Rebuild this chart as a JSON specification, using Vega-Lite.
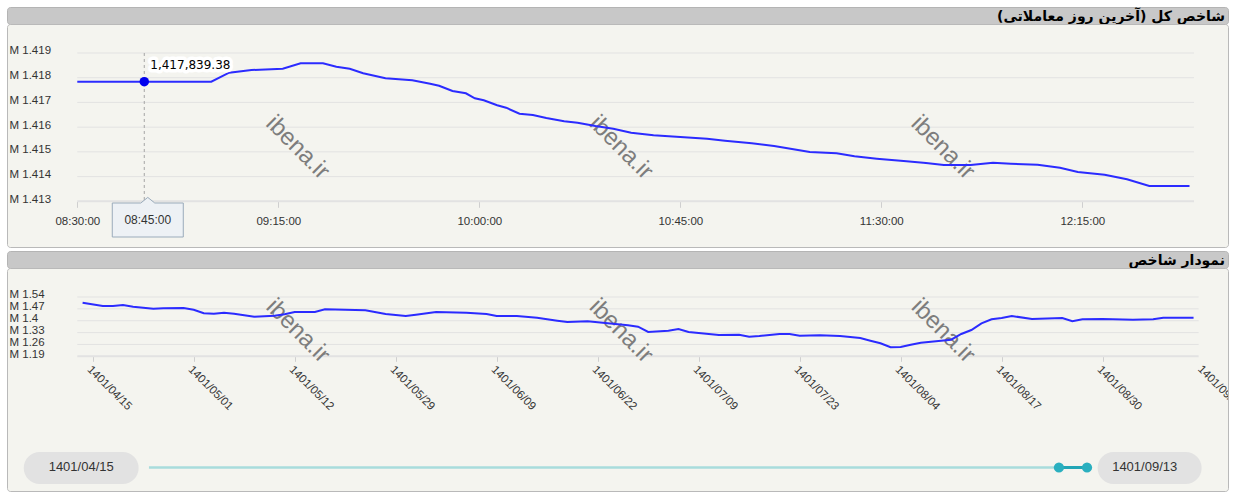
{
  "$schema": "https://vega.github.io/schema/vega-lite/v6.json",
  "background": "#ffffff",
  "padding": {"left": 6, "top": 6, "right": 4, "bottom": 2},
  "config": {
    "view": {"stroke": null},
    "axis": {"labelFont": "Liberation Sans", "labelFontSize": 11.5, "labelColor": "#333333", "labelFlush": false, "labelOverlap": false, "grid": false, "domain": false},
    "text": {"font": "Liberation Sans"}
  },
  "datasets": {
    "intraday": [
      {"t": "2022-12-04T08:30", "v": 1417839.38},
      {"t": "2022-12-04T08:45", "v": 1417839.38},
      {"t": "2022-12-04T09:00", "v": 1417839.38},
      {"t": "2022-12-04T09:04", "v": 1418203},
      {"t": "2022-12-04T09:09", "v": 1418312},
      {"t": "2022-12-04T09:16", "v": 1418365},
      {"t": "2022-12-04T09:20", "v": 1418583},
      {"t": "2022-12-04T09:25", "v": 1418583},
      {"t": "2022-12-04T09:28", "v": 1418446},
      {"t": "2022-12-04T09:31", "v": 1418365},
      {"t": "2022-12-04T09:34", "v": 1418179},
      {"t": "2022-12-04T09:39", "v": 1417977},
      {"t": "2022-12-04T09:45", "v": 1417896},
      {"t": "2022-12-04T09:49", "v": 1417758},
      {"t": "2022-12-04T09:51", "v": 1417677},
      {"t": "2022-12-04T09:54", "v": 1417463},
      {"t": "2022-12-04T09:57", "v": 1417370},
      {"t": "2022-12-04T09:59", "v": 1417167},
      {"t": "2022-12-04T10:01", "v": 1417086},
      {"t": "2022-12-04T10:04", "v": 1416884},
      {"t": "2022-12-04T10:06", "v": 1416787},
      {"t": "2022-12-04T10:09", "v": 1416544},
      {"t": "2022-12-04T10:12", "v": 1416492},
      {"t": "2022-12-04T10:15", "v": 1416370},
      {"t": "2022-12-04T10:19", "v": 1416237},
      {"t": "2022-12-04T10:22", "v": 1416180},
      {"t": "2022-12-04T10:26", "v": 1416047},
      {"t": "2022-12-04T10:30", "v": 1415937},
      {"t": "2022-12-04T10:34", "v": 1415776},
      {"t": "2022-12-04T10:39", "v": 1415670},
      {"t": "2022-12-04T10:45", "v": 1415602},
      {"t": "2022-12-04T10:51", "v": 1415533},
      {"t": "2022-12-04T10:55", "v": 1415452},
      {"t": "2022-12-04T11:01", "v": 1415347},
      {"t": "2022-12-04T11:06", "v": 1415237},
      {"t": "2022-12-04T11:10", "v": 1415116},
      {"t": "2022-12-04T11:14", "v": 1414995},
      {"t": "2022-12-04T11:20", "v": 1414942},
      {"t": "2022-12-04T11:24", "v": 1414821},
      {"t": "2022-12-04T11:29", "v": 1414724},
      {"t": "2022-12-04T11:35", "v": 1414631},
      {"t": "2022-12-04T11:40", "v": 1414550},
      {"t": "2022-12-04T11:44", "v": 1414469},
      {"t": "2022-12-04T11:50", "v": 1414469},
      {"t": "2022-12-04T11:55", "v": 1414562},
      {"t": "2022-12-04T11:59", "v": 1414521},
      {"t": "2022-12-04T12:05", "v": 1414481},
      {"t": "2022-12-04T12:10", "v": 1414359},
      {"t": "2022-12-04T12:14", "v": 1414185},
      {"t": "2022-12-04T12:20", "v": 1414076},
      {"t": "2022-12-04T12:25", "v": 1413890},
      {"t": "2022-12-04T12:30", "v": 1413619},
      {"t": "2022-12-04T12:39", "v": 1413619}
    ],
    "history": [
      {"i": 0, "v": 1506347}, {"i": 2, "v": 1486871}, {"i": 3, "v": 1486871}, {"i": 4, "v": 1492773},
      {"i": 5, "v": 1482739}, {"i": 7, "v": 1470935}, {"i": 8, "v": 1473296}, {"i": 10, "v": 1475067},
      {"i": 11, "v": 1465033}, {"i": 12, "v": 1443786}, {"i": 13, "v": 1441425}, {"i": 14, "v": 1447327},
      {"i": 15, "v": 1441425}, {"i": 17, "v": 1423719}, {"i": 19, "v": 1429621}, {"i": 20, "v": 1437884},
      {"i": 21, "v": 1451459}, {"i": 23, "v": 1451459}, {"i": 24, "v": 1467394}, {"i": 26, "v": 1465033},
      {"i": 28, "v": 1461492}, {"i": 30, "v": 1439655}, {"i": 32, "v": 1427851}, {"i": 33, "v": 1435523},
      {"i": 35, "v": 1451459}, {"i": 38, "v": 1447327}, {"i": 40, "v": 1439655}, {"i": 41, "v": 1427851},
      {"i": 43, "v": 1427851}, {"i": 45, "v": 1417817}, {"i": 47, "v": 1400111}, {"i": 48, "v": 1392439},
      {"i": 50, "v": 1396570}, {"i": 52, "v": 1384766}, {"i": 54, "v": 1372962}, {"i": 55, "v": 1364699},
      {"i": 56, "v": 1333419}, {"i": 58, "v": 1341091}, {"i": 59, "v": 1351125}, {"i": 60, "v": 1333419},
      {"i": 62, "v": 1321615}, {"i": 63, "v": 1315713}, {"i": 65, "v": 1317483}, {"i": 66, "v": 1305679},
      {"i": 67, "v": 1309811}, {"i": 69, "v": 1321615}, {"i": 70, "v": 1321615}, {"i": 71, "v": 1311581},
      {"i": 73, "v": 1313942}, {"i": 75, "v": 1309811}, {"i": 77, "v": 1298007}, {"i": 78, "v": 1282071},
      {"i": 79, "v": 1266726}, {"i": 80, "v": 1243118}, {"i": 81, "v": 1244889}, {"i": 82, "v": 1258463},
      {"i": 83, "v": 1270267}, {"i": 85, "v": 1282071}, {"i": 86, "v": 1287973}, {"i": 87, "v": 1321615},
      {"i": 88, "v": 1345223}, {"i": 89, "v": 1384766}, {"i": 90, "v": 1408374}, {"i": 91, "v": 1416047},
      {"i": 92, "v": 1427851}, {"i": 94, "v": 1410145}, {"i": 97, "v": 1416047}, {"i": 98, "v": 1396570},
      {"i": 99, "v": 1408374}, {"i": 101, "v": 1410145}, {"i": 104, "v": 1406013}, {"i": 106, "v": 1408374},
      {"i": 107, "v": 1417817}, {"i": 110, "v": 1417817}
    ],
    "hover": [{"t": "2022-12-04T08:45", "v": 1417839.38}],
    "ygrid1": [{"g": 1413000}, {"g": 1414000}, {"g": 1415000}, {"g": 1416000}, {"g": 1417000}, {"g": 1418000}, {"g": 1419000}],
    "ygrid2": [{"g": 1190000}, {"g": 1260000}, {"g": 1330000}, {"g": 1400000}, {"g": 1470000}, {"g": 1540000}]
  },
  "bounds": "flush",
  "spacing": 0,
  "vconcat": [
    {
      "width": 1221,
      "height": 17,
      "view": {"fill": "#c8c8c8", "stroke": "#b4b4b4", "cornerRadius": 3},
      "data": {"values": [{"title": "شاخص کل (آخرین روز معاملاتی)\u200f"}]},
      "mark": {"type": "text", "align": "right", "baseline": "bottom", "dx": -3, "dy": 0, "font": "DejaVu Sans", "fontWeight": "bold", "fontSize": 14, "color": "#000000"},
      "encoding": {"x": {"value": "width"}, "y": {"value": "height"}, "text": {"field": "title"}}
    },
    {
      "width": 1221,
      "height": 223,
      "view": {"fill": "#f4f4ef", "stroke": "#b9b9b9", "cornerRadius": 3},
      "layer": [
        {
          "data": {"name": "ygrid1"},
          "mark": {"type": "rule", "color": "#e2e2e2"},
          "encoding": {
            "x": {"datum": {"year": 2022, "month": 12, "date": 4, "hours": 8, "minutes": 30}, "type": "temporal"},
            "x2": {"datum": {"year": 2022, "month": 12, "date": 4, "hours": 12, "minutes": 40}},
            "y": {"field": "g", "type": "quantitative"},
            "strokeWidth": {"condition": {"test": "datum.g == 1413000", "value": 2}, "value": 1}
          }
        },
        {
          "data": {"values": [{}]},
          "mark": {"type": "text", "angle": 45, "fontSize": 24, "color": "#7d7d7d", "align": "center", "baseline": "middle"},
          "encoding": {
            "x": {"datum": {"year": 2022, "month": 12, "date": 4, "hours": 9, "minutes": 19, "seconds": 20}, "type": "temporal"},
            "y": {"datum": 1415168, "type": "quantitative"},
            "text": {"value": "ibena.ir"}
          }
        },
        {
          "data": {"values": [{}]},
          "mark": {"type": "text", "angle": 45, "fontSize": 24, "color": "#7d7d7d", "align": "center", "baseline": "middle"},
          "encoding": {
            "x": {"datum": {"year": 2022, "month": 12, "date": 4, "hours": 10, "minutes": 31, "seconds": 43}, "type": "temporal"},
            "y": {"datum": 1415168, "type": "quantitative"},
            "text": {"value": "ibena.ir"}
          }
        },
        {
          "data": {"values": [{}]},
          "mark": {"type": "text", "angle": 45, "fontSize": 24, "color": "#7d7d7d", "align": "center", "baseline": "middle"},
          "encoding": {
            "x": {"datum": {"year": 2022, "month": 12, "date": 4, "hours": 11, "minutes": 43, "seconds": 45}, "type": "temporal"},
            "y": {"datum": 1415168, "type": "quantitative"},
            "text": {"value": "ibena.ir"}
          }
        },
        {
          "data": {"name": "intraday"},
          "mark": {"type": "line", "color": "#2b2bff", "strokeWidth": 2},
          "encoding": {
            "x": {
              "field": "t", "type": "temporal",
              "scale": {"domain": [{"year": 2022, "month": 12, "date": 4, "hours": 8, "minutes": 14, "seconds": 16}, {"year": 2022, "month": 12, "date": 4, "hours": 12, "minutes": 47, "seconds": 37}], "nice": false},
              "axis": {
                "title": null,
                "orient": "bottom", "offset": -45.7, "format": "%H:%M:%S",
                "values": [
                  {"year": 2022, "month": 12, "date": 4, "hours": 8, "minutes": 30},
                  {"year": 2022, "month": 12, "date": 4, "hours": 9, "minutes": 15},
                  {"year": 2022, "month": 12, "date": 4, "hours": 10, "minutes": 0},
                  {"year": 2022, "month": 12, "date": 4, "hours": 10, "minutes": 45},
                  {"year": 2022, "month": 12, "date": 4, "hours": 11, "minutes": 30},
                  {"year": 2022, "month": 12, "date": 4, "hours": 12, "minutes": 15}
                ],
                "tickCount": 50,
                "ticks": true, "tickSize": 6, "tickColor": "#cfcfcf", "labelPadding": 8, "labelBaseline": "top", "labelAlign": "center"
              }
            },
            "y": {
              "field": "v", "type": "quantitative",
              "scale": {"domain": [1411151, 1420173], "nice": false, "zero": false},
              "axis": {
                "title": null,
                "orient": "left", "values": [1413000, 1414000, 1415000, 1416000, 1417000, 1418000, 1419000],
                "tickCount": 50,
                "labelExpr": "'M ' + format(datum.value / 1000000, '.3f')",
                "ticks": false, "tickSize": 0, "labelPadding": -2, "labelAlign": "left", "labelBaseline": "middle", "labelOffset": -2
              }
            }
          }
        },
        {
          "data": {"name": "hover"},
          "mark": {"type": "rule", "color": "#a5a5a5", "strokeDash": [3, 3], "strokeWidth": 1},
          "encoding": {
            "x": {"field": "t", "type": "temporal"},
            "y": {"datum": 1419000, "type": "quantitative"},
            "y2": {"datum": 1413000}
          }
        },
        {
          "data": {"name": "hover"},
          "mark": {"type": "point", "filled": true, "size": 90, "color": "#0000ee", "opacity": 1},
          "encoding": {
            "x": {"field": "t", "type": "temporal"},
            "y": {"field": "v", "type": "quantitative"}
          }
        },
        {
          "data": {"name": "hover"},
          "mark": {"type": "text", "align": "left", "baseline": "middle", "dx": 6, "dy": -17, "font": "DejaVu Sans", "fontSize": 12, "color": "#ffffff", "stroke": "#ffffff", "strokeWidth": 7, "strokeJoin": "round"},
          "encoding": {
            "x": {"field": "t", "type": "temporal"},
            "y": {"field": "v", "type": "quantitative"},
            "text": {"field": "v", "type": "quantitative", "format": ",.2f"}
          }
        },
        {
          "data": {"name": "hover"},
          "mark": {"type": "text", "align": "left", "baseline": "middle", "dx": 6, "dy": -17, "font": "DejaVu Sans", "fontSize": 12, "color": "#000000"},
          "encoding": {
            "x": {"field": "t", "type": "temporal"},
            "y": {"field": "v", "type": "quantitative"},
            "text": {"field": "v", "type": "quantitative", "format": ",.2f"}
          }
        },
        {
          "data": {"name": "hover"},
          "mark": {"type": "point", "shape": "M-1,-0.479L-0.197,-0.479L0,-0.637L0.197,-0.479L1,-0.479L1,0.479L-1,0.479Z", "size": 5041, "filled": true, "fill": "#edf1f5", "stroke": "#9aabbb", "strokeWidth": 1, "opacity": 1, "xOffset": 3.5},
          "encoding": {
            "x": {"field": "t", "type": "temporal"},
            "y": {"datum": 1412243, "type": "quantitative"}
          }
        },
        {
          "data": {"name": "hover"},
          "mark": {"type": "text", "align": "center", "baseline": "middle", "dx": 3.5, "fontSize": 12, "color": "#333333"},
          "encoding": {
            "x": {"field": "t", "type": "temporal"},
            "y": {"datum": 1412243, "type": "quantitative"},
            "text": {"field": "t", "type": "temporal", "format": "%H:%M:%S"}
          }
        }
      ]
    },
    {
      "width": 1221,
      "height": 4,
      "data": {"values": []},
      "mark": "point"
    },
    {
      "width": 1221,
      "height": 17,
      "view": {"fill": "#c8c8c8", "stroke": "#b4b4b4", "cornerRadius": 3},
      "data": {"values": [{"title": "نمودار شاخص\u200f"}]},
      "mark": {"type": "text", "align": "right", "baseline": "bottom", "dx": -3, "dy": 0, "font": "DejaVu Sans", "fontWeight": "bold", "fontSize": 14, "color": "#000000"},
      "encoding": {"x": {"value": "width"}, "y": {"value": "height"}, "text": {"field": "title"}}
    },
    {
      "width": 1221,
      "height": 223,
      "view": {"fill": "#f4f4ef", "stroke": "#b9b9b9", "cornerRadius": 3},
      "layer": [
        {
          "data": {"name": "ygrid2"},
          "mark": {"type": "rule", "color": "#e2e2e2"},
          "encoding": {
            "x": {"datum": -0.525, "type": "quantitative"},
            "x2": {"datum": 110.5},
            "y": {"field": "g", "type": "quantitative"},
            "strokeWidth": {"condition": {"test": "datum.g == 1190000", "value": 2}, "value": 1}
          }
        },
        {
          "data": {"values": [{}]},
          "mark": {"type": "text", "angle": 45, "fontSize": 24, "color": "#7d7d7d", "align": "center", "baseline": "middle"},
          "encoding": {
            "x": {"datum": 21.3, "type": "quantitative"},
            "y": {"datum": 1339332, "type": "quantitative"},
            "text": {"value": "ibena.ir"}
          }
        },
        {
          "data": {"values": [{}]},
          "mark": {"type": "text", "angle": 45, "fontSize": 24, "color": "#7d7d7d", "align": "center", "baseline": "middle"},
          "encoding": {
            "x": {"datum": 53.3, "type": "quantitative"},
            "y": {"datum": 1339332, "type": "quantitative"},
            "text": {"value": "ibena.ir"}
          }
        },
        {
          "data": {"values": [{}]},
          "mark": {"type": "text", "angle": 45, "fontSize": 24, "color": "#7d7d7d", "align": "center", "baseline": "middle"},
          "encoding": {
            "x": {"datum": 85.2, "type": "quantitative"},
            "y": {"datum": 1339332, "type": "quantitative"},
            "text": {"value": "ibena.ir"}
          }
        },
        {
          "data": {"name": "history"},
          "mark": {"type": "line", "color": "#2b2bff", "strokeWidth": 2},
          "encoding": {
            "x": {
              "field": "i", "type": "quantitative",
              "scale": {"domain": [-7.485, 113.41], "nice": false, "zero": false},
              "axis": {
                "title": null,
                "orient": "bottom", "offset": -134.7,
                "values": [1, 11, 21, 31, 41, 51, 61, 71, 81, 91, 101],
                "tickCount": 50,
                "labelExpr": "['1401/04/15','1401/05/01','1401/05/12','1401/05/29','1401/06/09','1401/06/22','1401/07/09','1401/07/23','1401/08/04','1401/08/17','1401/08/30'][(datum.value - 1) / 10]",
                "ticks": true, "tickSize": 5, "tickColor": "#cfcfcf", "labelPadding": 2, "labelAngle": 45, "labelAlign": "left", "labelBaseline": "top"
              }
            },
            "y": {
              "field": "v", "type": "quantitative",
              "scale": {"domain": [395000, 1711158], "nice": false, "zero": false},
              "axis": {
                "title": null,
                "orient": "left", "values": [1190000, 1260000, 1330000, 1400000, 1470000, 1540000],
                "tickCount": 50,
                "labelExpr": "'M ' + format(datum.value / 1000000, '.2~f')",
                "ticks": false, "tickSize": 0, "labelPadding": -2, "labelAlign": "left", "labelBaseline": "middle", "labelOffset": -2
              }
            }
          }
        },
        {
          "data": {"values": [{"label": "1401/09/13"}]},
          "mark": {"type": "text", "align": "left", "baseline": "top", "angle": 45, "fontSize": 11.5, "color": "#333333", "clip": true},
          "encoding": {
            "x": {"datum": 111, "type": "quantitative"},
            "y": {"datum": 1148697, "type": "quantitative"},
            "text": {"field": "label"}
          }
        },
        {
          "data": {"values": [{}]},
          "mark": {"type": "rect", "color": "#e2e2e2", "cornerRadius": 16},
          "encoding": {
            "x": {"datum": -5.83, "type": "quantitative"},
            "x2": {"datum": 5.55},
            "y": {"datum": 625190, "type": "quantitative"},
            "y2": {"datum": 436326}
          }
        },
        {
          "data": {"values": [{}]},
          "mark": {"type": "rect", "color": "#e2e2e2", "cornerRadius": 16},
          "encoding": {
            "x": {"datum": 100.5, "type": "quantitative"},
            "x2": {"datum": 110.8},
            "y": {"datum": 625190, "type": "quantitative"},
            "y2": {"datum": 436326}
          }
        },
        {
          "data": {"values": [{}]},
          "mark": {"type": "rule", "color": "#a8dcdc", "strokeWidth": 2.5},
          "encoding": {
            "x": {"datum": 6.57, "type": "quantitative"},
            "x2": {"datum": 96.67},
            "y": {"datum": 533709, "type": "quantitative"}
          }
        },
        {
          "data": {"values": [{}]},
          "mark": {"type": "rule", "color": "#22a6b6", "strokeWidth": 3},
          "encoding": {
            "x": {"datum": 96.67, "type": "quantitative"},
            "x2": {"datum": 99.45},
            "y": {"datum": 533709, "type": "quantitative"}
          }
        },
        {
          "data": {"values": [{}]},
          "mark": {"type": "point", "filled": true, "size": 105, "color": "#2aafbf", "opacity": 1},
          "encoding": {
            "x": {"datum": 96.67, "type": "quantitative"},
            "y": {"datum": 533709, "type": "quantitative"}
          }
        },
        {
          "data": {"values": [{}]},
          "mark": {"type": "point", "filled": true, "size": 105, "color": "#2aafbf", "opacity": 1},
          "encoding": {
            "x": {"datum": 99.45, "type": "quantitative"},
            "y": {"datum": 533709, "type": "quantitative"}
          }
        },
        {
          "data": {"values": [{"label": "1401/04/15"}]},
          "mark": {"type": "text", "align": "center", "baseline": "middle", "fontSize": 13, "color": "#333333"},
          "encoding": {
            "x": {"datum": -0.14, "type": "quantitative"},
            "y": {"datum": 533709, "type": "quantitative"},
            "text": {"field": "label"}
          }
        },
        {
          "data": {"values": [{"label": "1401/09/13"}]},
          "mark": {"type": "text", "align": "center", "baseline": "middle", "fontSize": 13, "color": "#333333"},
          "encoding": {
            "x": {"datum": 105.16, "type": "quantitative"},
            "y": {"datum": 533709, "type": "quantitative"},
            "text": {"field": "label"}
          }
        }
      ]
    }
  ]
}
